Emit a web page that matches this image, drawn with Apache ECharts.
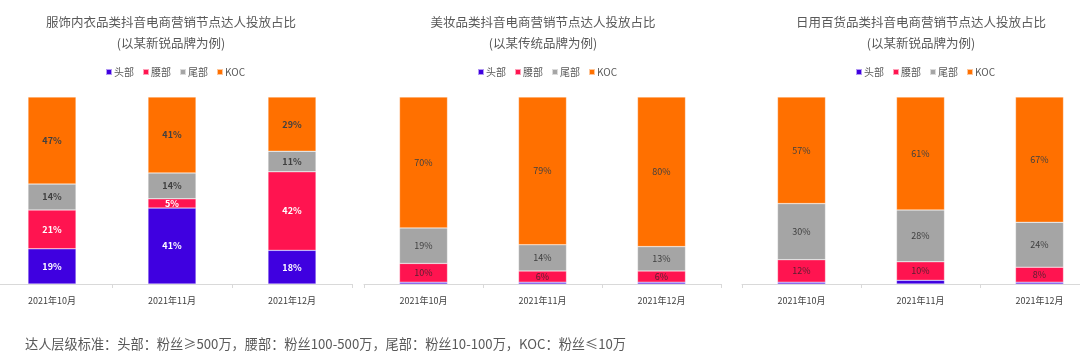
<!DOCTYPE html>
<html>
<head>
<meta charset="utf-8">
<script src="https://cdn.jsdelivr.net/npm/echarts@6/dist/echarts.min.js"></script>
<style>
html,body{margin:0;padding:0;background:#fff;}
#c{width:1080px;height:356px;}
</style>
</head>
<body>
<div id="c"></div>
<script>
const categories = ['2021年10月', '2021年11月', '2021年12月'];
const seriesNames = ['头部', '腰部', '尾部', 'KOC'];
const titles = ['服饰内衣品类抖音电商营销节点达人投放占比', '美妆品类抖音电商营销节点达人投放占比', '日用百货品类抖音电商营销节点达人投放占比'];
const subtitles = ['(以某新锐品牌为例)', '(以某传统品牌为例)', '(以某新锐品牌为例)'];
// panel 1: 服饰内衣
const p1Head = [19, 41, 18];
const p1Waist = [21, 5, 42];
const p1Tail = [14, 14, 11];
const p1Koc = [47, 41, 29];
// panel 2: 美妆
const p2Head = [1, 1, 1];
const p2Waist = [10, 6, 6];
const p2Tail = [19, 14, 13];
const p2Koc = [70, 79, 80];
// panel 3: 日用百货
const p3Head = [1, 2, 1];
const p3Waist = [12, 10, 8];
const p3Tail = [30, 28, 24];
const p3Koc = [57, 61, 67];
const footnote = '达人层级标准：头部：粉丝≥500万，腰部：粉丝100-500万，尾部：粉丝10-100万，KOC：粉丝≤10万';

const panels = [[p1Head, p1Waist, p1Tail, p1Koc], [p2Head, p2Waist, p2Tail, p2Koc], [p3Head, p3Waist, p3Tail, p3Koc]];
const colors = ['#3F00E0', '#FF1450', '#A5A5A5', '#FF7000'];
const FONT = '"Noto Sans CJK SC", "Noto Sans", sans-serif';

const layout = [
  { left: -8, width: 360, center: 171 },
  { left: 364, width: 357, center: 543 },
  { left: 742, width: 357, center: 921 }
];

const grid = [], xAxis = [], yAxis = [], series = [], legend = [], title = [];
panels.forEach((p, pi) => {
  const L = layout[pi];
  grid.push({ left: L.left, width: L.width, top: 97, height: 187, outerBoundsMode: 'none', containLabel: false });
  xAxis.push({
    type: 'category', gridIndex: pi, data: categories,
    axisLine: { lineStyle: { color: '#D9D9D9' } },
    axisTick: { show: true, length: 4, lineStyle: { color: '#D9D9D9' } },
    axisLabel: { color: '#404040', fontSize: 9, margin: 12, fontFamily: FONT }
  });
  yAxis.push({ type: 'value', gridIndex: pi, min: 0, max: 100, show: false, splitLine: { show: false } });
  const totals = categories.map((c, ci) => p.reduce((s, arr) => s + arr[ci], 0));
  p.forEach((arr, si) => {
    let labelColor = '#404040';
    if (pi === 0 && si < 2) labelColor = '#ffffff';
    if (pi > 0 && si === 1) labelColor = '#5a2030';
    series.push({
      name: seriesNames[si], type: 'bar', stack: 'p' + pi,
      xAxisIndex: pi, yAxisIndex: pi, barWidth: 48,
      itemStyle: { color: colors[si], borderColor: 'rgba(255,255,255,0.6)', borderWidth: 0.5 },
      label: {
        show: true, position: 'inside', fontSize: 9, color: labelColor,
        fontWeight: pi === 0 ? 'bold' : 'normal', fontFamily: FONT,
        formatter: (prm) => { const v = arr[prm.dataIndex]; return v >= 3 ? v + '%' : ''; }
      },
      data: arr.map((v, ci) => v / totals[ci] * 100)
    });
  });
  legend.push({
    data: seriesNames, left: L.center - 66, top: 67, orient: 'horizontal', padding: 0,
    itemWidth: 6, itemHeight: 6, itemGap: 8, icon: 'rect',
    textStyle: { color: '#595959', fontSize: 10, fontFamily: FONT, padding: [0, 0, 0, -3] }
  });
  title.push({
    text: titles[pi], subtext: subtitles[pi], left: L.center, top: 16, textAlign: 'center',
    padding: 0, itemGap: 8,
    textStyle: { color: '#595959', fontSize: 12.5, fontWeight: 'normal', fontFamily: FONT },
    subtextStyle: { color: '#595959', fontSize: 12.5, fontFamily: FONT }
  });
});

const chart = echarts.init(document.getElementById('c'));
chart.setOption({
  animation: false,
  title, grid, xAxis, yAxis, series, legend,
  graphic: [{
    type: 'text', left: 25, top: 337,
    style: { text: footnote, fill: '#595959', fontSize: 13.2, fontFamily: FONT }
  }]
});
</script>
</body>
</html>
